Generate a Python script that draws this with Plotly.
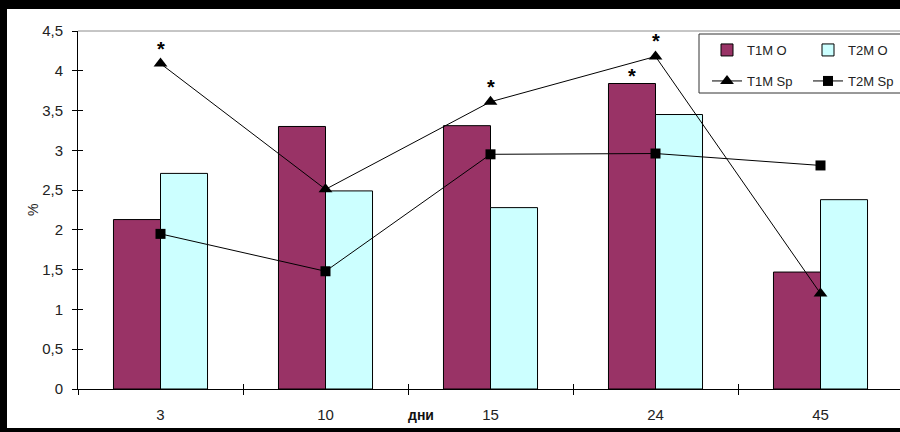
import plotly.graph_objects as go

# Days of observation and the four measured series (%)
days = ["3", "10", "15", "24", "45"]
t1m_o = [2.13, 3.30, 3.31, 3.84, 1.47]
t2m_o = [2.71, 2.49, 2.28, 3.45, 2.38]
t1m_sp = [4.09, 2.51, 3.61, 4.18, 1.20]
t2m_sp = [1.95, 1.48, 2.95, 2.96, 2.81]

# Significant points marked with an asterisk: day indices per series
stars_t1m_sp = [0, 2, 3]
stars_t1m_o = [3]

y_ticks = [0, 0.5, 1, 1.5, 2, 2.5, 3, 3.5, 4, 4.5]

# ---- page geometry (pixels) ----
W, H = 900, 432
ML, MR, MT, MB = 78, 0, 31, 43
PW, PH = W - ML - MR, H - MT - MB
CAT_PX = 165.0
X_RANGE = [-0.5, -0.5 + PW / CAT_PX]
BARGAP = 0.43
BAR_PX = CAT_PX * (1 - BARGAP) / 2

FONT = "Arial, Liberation Sans, sans-serif"
TXT = "#222222"
MAROON = "#993366"
CYAN = "#CCFFFF"


def px_x(p):
    return (p - ML) / PW


def px_y(p):
    return (MT + PH - p) / PH


fig = go.Figure()

fig.add_trace(go.Bar(
    x=days, y=t1m_o, name="T1M O",
    marker=dict(color=MAROON, line=dict(color="black", width=1)),
    legend="legend",
))
fig.add_trace(go.Bar(
    x=days, y=t2m_o, name="T2M O",
    marker=dict(color=CYAN, line=dict(color="black", width=1)),
    legend="legend2",
))
fig.add_trace(go.Scatter(
    x=days, y=t1m_sp, name="T1M Sp", mode="lines+markers",
    line=dict(color="black", width=1),
    marker=dict(symbol="triangle-up", size=12, color="black"),
    legend="legend3", cliponaxis=False,
))
fig.add_trace(go.Scatter(
    x=days, y=t2m_sp, name="T2M Sp", mode="lines+markers",
    line=dict(color="black", width=1),
    marker=dict(symbol="square", size=10, color="black"),
    legend="legend4", cliponaxis=False,
))
# carrier for the inner halves of the crossing tick marks
fig.add_trace(go.Scatter(x=[], y=[], xaxis="x2", yaxis="y2",
                         showlegend=False, hoverinfo="skip"))

annotations = []
star_font = dict(family=FONT, size=20, color="black")
for i in stars_t1m_sp:
    annotations.append(dict(x=i, y=t1m_sp[i], xref="x", yref="y",
                            text="<b>*</b>", showarrow=False,
                            xanchor="center", yanchor="middle",
                            yshift=15, font=star_font))
for i in stars_t1m_o:
    annotations.append(dict(x=i, y=t1m_o[i], xref="x", yref="y",
                            text="<b>*</b>", showarrow=False,
                            xanchor="center", yanchor="middle",
                            xshift=-BAR_PX / 2, yshift=8, font=star_font))

annotations.append(dict(x=px_x(421), y=px_y(415), xref="paper", yref="paper",
                        xanchor="center", yanchor="middle",
                        text="<b>дни</b>", showarrow=False,
                        font=dict(family=FONT, size=14, color="#111111")))
annotations.append(dict(x=px_x(33), y=0.5, xref="paper", yref="paper",
                        xanchor="center", yanchor="middle",
                        text="%", textangle=-90, showarrow=False,
                        font=dict(family=FONT, size=14, color=TXT)))

shapes = [
    # plot area top border
    dict(type="line", xref="paper", yref="paper", x0=0, x1=1, y0=1, y1=1,
         line=dict(color="#8c8c8c", width=1)),
    # legend frame
    dict(type="rect", xref="paper", yref="paper",
         x0=px_x(699), x1=px_x(906), y0=px_y(93), y1=px_y(34),
         fillcolor="white", line=dict(color="#333333", width=1), layer="above"),
    # black picture frame
    dict(type="rect", xref="paper", yref="paper",
         x0=px_x(0), x1=px_x(7), y0=px_y(432), y1=px_y(0),
         fillcolor="black", line=dict(width=0), layer="above"),
    dict(type="rect", xref="paper", yref="paper",
         x0=px_x(0), x1=px_x(900), y0=px_y(9), y1=px_y(0),
         fillcolor="black", line=dict(width=0), layer="above"),
    dict(type="rect", xref="paper", yref="paper",
         x0=px_x(0), x1=px_x(900), y0=px_y(432), y1=px_y(428),
         fillcolor="black", line=dict(width=0), layer="above"),
]


def legend_box(left_px, top_px):
    return dict(
        x=px_x(left_px), y=px_y(top_px), xanchor="left", yanchor="top",
        orientation="h", bgcolor="rgba(0,0,0,0)", borderwidth=0,
        font=dict(family=FONT, size=13, color=TXT),
    )


fig.update_layout(
    width=W, height=H,
    margin=dict(l=ML, r=MR, t=MT, b=MB, pad=0),
    paper_bgcolor="white", plot_bgcolor="white",
    separators=", ",
    showlegend=True,
    barmode="group", bargap=BARGAP, bargroupgap=0,
    font=dict(family=FONT, size=15, color=TXT),
    xaxis=dict(
        type="category", categoryorder="array", categoryarray=days,
        range=X_RANGE, showline=True, linecolor="black", linewidth=1,
        ticks="outside", tickson="boundaries", ticklen=5, tickcolor="black",
        showgrid=False, zeroline=False, ticklabelstandoff=12,
        tickfont=dict(family=FONT, size=15, color=TXT), fixedrange=True,
    ),
    yaxis=dict(
        range=[0, 4.5], tickvals=y_ticks, showline=True, linecolor="black",
        linewidth=1, ticks="outside", ticklen=5, tickcolor="black",
        showgrid=False, zeroline=False, ticklabelstandoff=6,
        tickfont=dict(family=FONT, size=15, color=TXT), fixedrange=True,
    ),
    xaxis2=dict(
        overlaying="x", anchor="y", side="bottom", range=X_RANGE,
        tickvals=[i + 0.5 for i in range(len(days) - 1)],
        ticks="inside", ticklen=5, tickcolor="black",
        showticklabels=False, showline=False, showgrid=False, zeroline=False,
    ),
    yaxis2=dict(
        overlaying="y", anchor="x", side="left", range=[0, 4.5],
        tickvals=y_ticks, ticks="inside", ticklen=5, tickcolor="black",
        showticklabels=False, showline=False, showgrid=False, zeroline=False,
    ),
    legend=legend_box(707, 35),
    legend2=legend_box(808, 35),
    legend3=legend_box(707, 66),
    legend4=legend_box(808, 66),
    annotations=annotations,
    shapes=shapes,
)

fig.write_html("out.html")
